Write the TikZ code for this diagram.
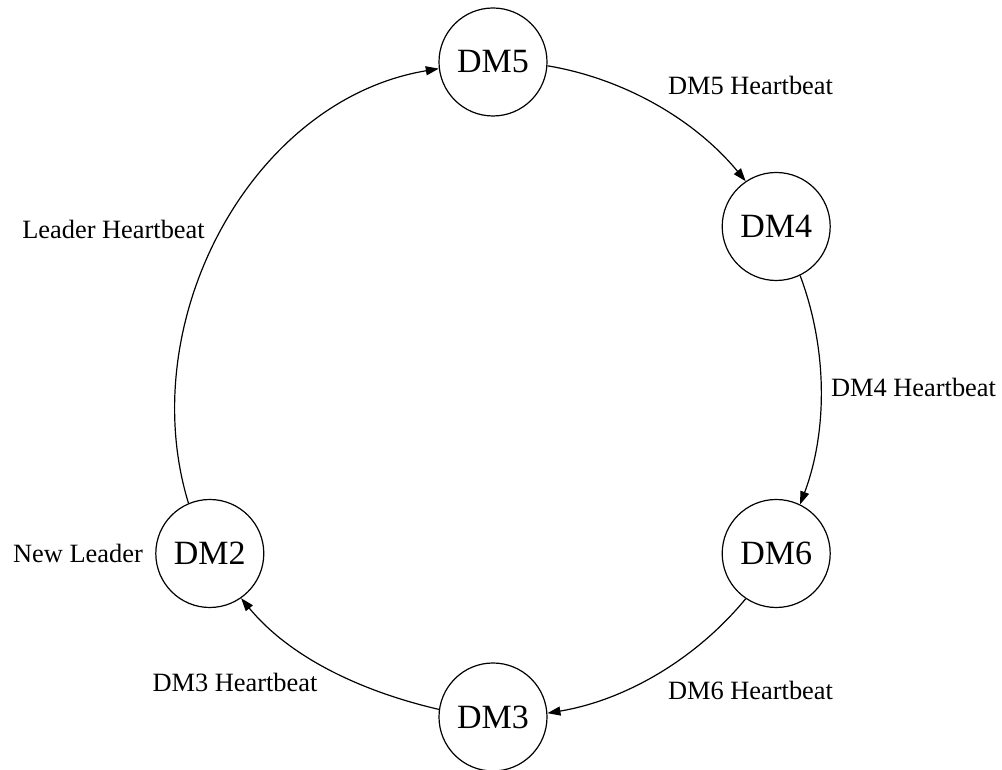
\documentclass[tikz,border=0pt]{standalone}
\usepackage{fontspec}
\setmainfont{Liberation Serif}
\usetikzlibrary{arrows.meta}
\begin{document}
\begin{tikzpicture}[x=1pt,y=1pt,
  dm/.style={circle,draw,line width=1.2pt,minimum size=108pt,inner sep=0pt,
    font=\fontsize{34}{40}\selectfont},
  lbl/.style={inner sep=0pt,anchor=base,font=\fontsize{26.4}{30}\selectfont},
  hb/.style={line width=1.2pt,-{Triangle[length=13pt,width=9pt]}}]
\useasboundingbox (0,0) rectangle (1002,770);
% ring of managers, 327pt around (493,380), 60 degrees apart
\node[dm] (n5) at (493,708)     {DM5};
\node[dm] (n4) at (776.2,543.5) {DM4};
\node[dm] (n6) at (776.2,216.5) {DM6};
\node[dm] (n3) at (493,53)      {DM3};
\node[dm] (n2) at (209.8,216.5) {DM2};
% heartbeat arcs, clockwise around the ring
\draw[hb] (n5.-4.74)  to[out=-9.47,  in=129.47, looseness=0.879] (n4.124.74);
\draw[hb] (n4.-64.74) to[out=-69.47, in=69.47,  looseness=0.879] (n6.64.74);
\draw[hb] (n6.-124.74) to[out=-129.47, in=9.47, looseness=0.879] (n3.4.74);
\draw[hb] (n3.172) to[out=167, in=-50.53, looseness=0.879] (n2.-55.26);
\draw[hb] (n2.113) to[out=107, in=189.47, looseness=0.97] (n5.187);
% labels
\node[lbl] (l5) at (750.5,675) {DM5 Heartbeat};
\node[lbl] (l4) at (913.5,373) {DM4 Heartbeat};
\node[lbl] (l6) at (750.5,70)  {DM6 Heartbeat};
\node[lbl] (l3) at (235,78)    {DM3 Heartbeat};
\node[lbl] (ll) at (113.5,531) {Leader Heartbeat};
\node[lbl] (nl) at (78,207)    {New Leader};
\end{tikzpicture}
\end{document}
